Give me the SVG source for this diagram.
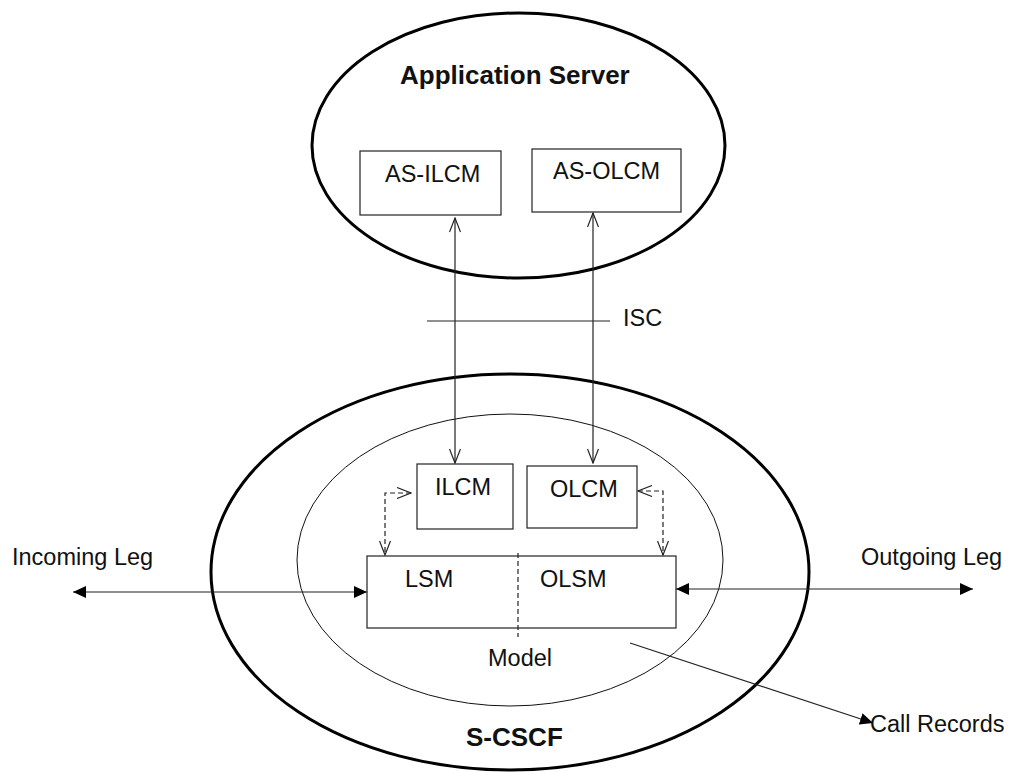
<svg xmlns="http://www.w3.org/2000/svg" width="1009" height="772" viewBox="0 0 1009 772">
<style>
text{font-family:"Liberation Sans",Arial,sans-serif;font-size:23.5px;fill:#111}
.title{font-weight:bold;font-size:26px}
.thick{fill:none;stroke:#000;stroke-width:3}
.thin{fill:none;stroke:#111;stroke-width:1}
.box{fill:#fff;stroke:#222;stroke-width:1.2}
.line{fill:none;stroke:#222;stroke-width:1.2}
.dash{fill:none;stroke:#222;stroke-width:1.2;stroke-dasharray:5,3}
</style>
<defs>
<marker id="open" viewBox="0 0 16 12" refX="15" refY="6" markerWidth="16" markerHeight="12" markerUnits="userSpaceOnUse" orient="auto-start-reverse">
<path d="M1,0.5 L15,6 L1,11.5" fill="none" stroke="#222" stroke-width="1.2"/>
</marker>
<marker id="filled" viewBox="0 0 13 12" refX="13" refY="6" markerWidth="13" markerHeight="12" markerUnits="userSpaceOnUse" orient="auto-start-reverse">
<path d="M0,0 L13,6 L0,12 Z" fill="#000"/>
</marker>
</defs>
<rect width="1009" height="772" fill="#fff"/>
<g id="scscf">
<ellipse class="thick" cx="510" cy="572" rx="299" ry="198"/>
<text class="title" x="466" y="746">S-CSCF</text>
</g>
<g id="model">
<ellipse class="thin" cx="510" cy="560" rx="213" ry="146"/>
<text x="488" y="666">Model</text>
</g>
<g id="appserver">
<ellipse class="thick" cx="518.5" cy="145.5" rx="206.5" ry="132.5"/>
<text class="title" x="400" y="84">Application Server</text>
</g>
<g id="as-ilcm">
<rect class="box" x="360" y="151" width="141" height="64"/>
<text x="385" y="182">AS-ILCM</text>
</g>
<g id="as-olcm">
<rect class="box" x="532" y="149" width="149" height="63"/>
<text x="553" y="179">AS-OLCM</text>
</g>
<g id="ilcm">
<rect class="box" x="417" y="464" width="96" height="65"/>
<text x="435" y="495">ILCM</text>
</g>
<g id="olcm">
<rect class="box" x="527" y="466" width="110" height="62"/>
<text x="550" y="497">OLCM</text>
</g>
<g id="lsm">
<rect class="box" x="367" y="556" width="309" height="72"/>
<text x="405" y="587">LSM</text>
<text x="540" y="587">OLSM</text>
<line class="dash" x1="518" y1="553" x2="518" y2="637"/>
</g>
<g id="isc">
<line class="line" x1="427" y1="321" x2="610" y2="321"/>
<text x="623" y="326">ISC</text>
</g>
<g id="incoming-leg"><text x="12" y="565">Incoming Leg</text></g>
<g id="outgoing-leg"><text x="861" y="565">Outgoing Leg</text></g>
<g id="call-records"><text x="870" y="732">Call Records</text></g>
<g id="connectors">
<line class="line" x1="455" y1="218" x2="455" y2="463" marker-start="url(#open)" marker-end="url(#open)"/>
<line class="line" x1="593" y1="213" x2="593" y2="463" marker-start="url(#open)" marker-end="url(#open)"/>
<path class="dash" d="M411,493 H385 V555" marker-start="url(#open)" marker-end="url(#open)"/>
<path class="dash" d="M638,491 H663 V555" marker-start="url(#open)" marker-end="url(#open)"/>
<line class="line" x1="73" y1="592" x2="367" y2="592" marker-start="url(#filled)" marker-end="url(#filled)"/>
<line class="line" x1="676" y1="589" x2="973" y2="589" marker-start="url(#filled)" marker-end="url(#filled)"/>
<line class="line" x1="630" y1="643" x2="873" y2="723" marker-end="url(#filled)"/>
</g>
</svg>
